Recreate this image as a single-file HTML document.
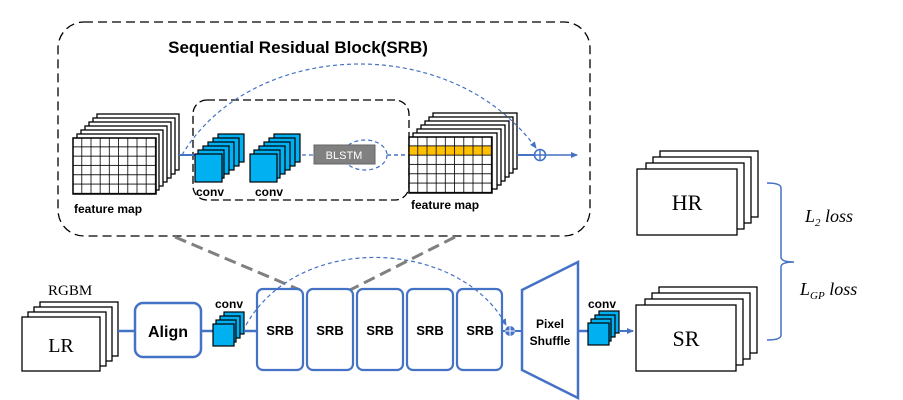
<!DOCTYPE html>
<html><head><meta charset="utf-8"><style>
body{margin:0;background:#fff}
svg{display:block}
.b{font-family:"Liberation Sans",sans-serif;font-weight:bold}
.s{font-family:"Liberation Serif",serif}
</style></head><body>
<svg width="903" height="400" viewBox="0 0 903 400" xmlns="http://www.w3.org/2000/svg">
<defs>
<marker id="ar" markerUnits="userSpaceOnUse" markerWidth="8" markerHeight="8" refX="6" refY="4" orient="auto"><path d="M0,1 L7,4 L0,7 z" fill="#4472C4"/></marker>
<pattern id="grid" x="73" y="138" width="9.2" height="9.3" patternUnits="userSpaceOnUse"><path d="M9.2,0 V9.3 M0,9.3 H9.2" stroke="#000" stroke-width="1.6" fill="none"/></pattern>
<pattern id="grid2" x="409" y="137" width="9.2" height="9.3" patternUnits="userSpaceOnUse"><path d="M9.2,0 V9.3 M0,9.3 H9.2" stroke="#000" stroke-width="1.6" fill="none"/></pattern>
</defs>

<rect x="58" y="22" width="532" height="214" rx="26" fill="none" stroke="#000" stroke-width="1.3" stroke-dasharray="9,5"/>
<text x="298" y="53" class="b" font-size="17" text-anchor="middle">Sequential Residual Block(SRB)</text>
<rect x="193" y="100" width="216" height="100" rx="14" fill="none" stroke="#000" stroke-width="1.3" stroke-dasharray="8,4"/>

<g fill="#fff" stroke="#000" stroke-width="1.3">
<rect x="97" y="114" width="82" height="56"/><rect x="93" y="118" width="82" height="56"/><rect x="89" y="122" width="82" height="56"/><rect x="85" y="126" width="82" height="56"/><rect x="81" y="130" width="82" height="56"/><rect x="77" y="134" width="82" height="56"/>
<rect x="73" y="138" width="83" height="56"/>
</g>
<rect x="73" y="138" width="83" height="56" fill="url(#grid)" stroke="#000" stroke-width="1.3"/>
<text x="74" y="213" class="b" font-size="12">feature map</text>
<line x1="179" y1="155" x2="195" y2="155" stroke="#4472C4" stroke-width="2"/>

<g fill="#00B0F0" stroke="#000" stroke-width="1.2">
<rect x="218" y="134" width="26" height="28"/><rect x="213" y="138" width="26" height="28"/><rect x="208" y="142" width="26" height="28"/><rect x="203" y="146" width="26" height="28"/><rect x="198" y="150" width="26" height="28"/><rect x="195" y="154" width="27" height="28"/>
<rect x="274" y="134" width="26" height="28"/><rect x="269" y="138" width="26" height="28"/><rect x="264" y="142" width="26" height="28"/><rect x="259" y="146" width="26" height="28"/><rect x="254" y="150" width="26" height="28"/><rect x="250" y="154" width="27" height="28"/>
</g>
<text x="196" y="196" class="b" font-size="12">conv</text>
<text x="255" y="196" class="b" font-size="12">conv</text>
<line x1="302" y1="155" x2="314" y2="155" stroke="#4472C4" stroke-width="1.2" stroke-dasharray="4,3"/>
<ellipse cx="365" cy="155" rx="22" ry="15" fill="none" stroke="#4472C4" stroke-width="1.2" stroke-dasharray="4,3"/>
<rect x="314" y="145" width="61" height="19" fill="#808080" stroke="#666"/>
<text x="344" y="159" font-family="Liberation Sans,sans-serif" font-size="11" fill="#fff" text-anchor="middle">BLSTM</text>
<line x1="387" y1="155" x2="409" y2="155" stroke="#4472C4" stroke-width="1.5" stroke-dasharray="4,3"/>

<g fill="#fff" stroke="#000" stroke-width="1.3">
<rect x="433" y="113" width="84" height="56"/><rect x="429" y="117" width="84" height="56"/><rect x="425" y="121" width="84" height="56"/><rect x="421" y="125" width="84" height="56"/><rect x="417" y="129" width="84" height="56"/><rect x="413" y="133" width="84" height="56"/>
<rect x="409" y="137" width="83" height="56"/>
</g>
<rect x="409" y="146" width="83" height="9.3" fill="#FFC000"/>
<rect x="409" y="137" width="83" height="56" fill="url(#grid2)" stroke="#000" stroke-width="1.3"/>
<text x="411" y="209" class="b" font-size="12">feature map</text>
<line x1="517" y1="155" x2="534" y2="155" stroke="#4472C4" stroke-width="2"/>
<circle cx="540" cy="155" r="5.5" fill="none" stroke="#4472C4" stroke-width="1.6"/>
<path d="M534.5,155 H545.5 M540,149.5 V160.5" stroke="#4472C4" stroke-width="1.4"/>
<line x1="546" y1="155" x2="577" y2="155" stroke="#4472C4" stroke-width="1.5" marker-end="url(#ar)"/>
<path d="M182,155 C250,40 450,30 536,148" fill="none" stroke="#4472C4" stroke-width="1.2" stroke-dasharray="4,3" marker-end="url(#ar)"/>

<line x1="175" y1="237" x2="300" y2="290" stroke="#808080" stroke-width="3" stroke-dasharray="12,6"/>
<line x1="455" y1="237" x2="350" y2="290" stroke="#808080" stroke-width="3" stroke-dasharray="12,6"/>

<text x="48" y="295" class="s" font-size="15">RGBM</text>
<g fill="#fff" stroke="#000" stroke-width="1.3">
<rect x="40" y="302" width="78" height="54"/><rect x="34" y="307" width="78" height="54"/><rect x="28" y="312" width="78" height="54"/><rect x="22" y="317" width="78" height="54"/>
</g>
<text x="61" y="352" class="s" font-size="20" text-anchor="middle">LR</text>
<line x1="118" y1="331" x2="135" y2="331" stroke="#4472C4" stroke-width="2.5"/>
<rect x="135" y="303" width="66" height="54" rx="8" fill="#fff" stroke="#4472C4" stroke-width="2.5"/>
<text x="168" y="337" class="b" font-size="16" text-anchor="middle">Align</text>
<line x1="201" y1="331" x2="213" y2="331" stroke="#4472C4" stroke-width="2.5"/>
<g fill="#00B0F0" stroke="#000" stroke-width="1.2">
<rect x="224" y="312" width="20" height="22"/><rect x="220" y="316" width="20" height="22"/><rect x="216" y="320" width="20" height="22"/><rect x="213" y="324" width="21" height="22"/>
</g>
<text x="215" y="308" class="b" font-size="12">conv</text>
<line x1="244" y1="331" x2="257" y2="331" stroke="#4472C4" stroke-width="2.5"/>

<g fill="#fff" stroke="#4472C4" stroke-width="2.2">
<rect x="257" y="289" width="46" height="81" rx="6"/><rect x="307" y="289" width="46" height="81" rx="6"/><rect x="357" y="289" width="46" height="81" rx="6"/><rect x="407" y="289" width="46" height="81" rx="6"/><rect x="457" y="289" width="45" height="81" rx="6"/>
</g>
<g class="b" font-size="13" text-anchor="middle">
<text x="280" y="335">SRB</text><text x="330" y="335">SRB</text><text x="380" y="335">SRB</text><text x="430" y="335">SRB</text><text x="480" y="335">SRB</text>
</g>
<path d="M246,325 C300,230 460,240 506,325" fill="none" stroke="#4472C4" stroke-width="1.2" stroke-dasharray="4,3" marker-end="url(#ar)"/>
<line x1="502" y1="331" x2="522" y2="331" stroke="#4472C4" stroke-width="2"/>
<circle cx="510" cy="331" r="5" fill="#4472C4"/>
<path d="M505,331 H515 M510,326 V336" stroke="#fff" stroke-width="1"/>

<path d="M522,290 L578,262 L578,398 L522,370 Z" fill="#fff" stroke="#4472C4" stroke-width="2.5"/>
<text x="550" y="328" class="b" font-size="12" text-anchor="middle">Pixel</text>
<text x="550" y="345" class="b" font-size="12" text-anchor="middle">Shuffle</text>
<line x1="578" y1="331" x2="589" y2="331" stroke="#4472C4" stroke-width="2.5"/>
<g fill="#00B0F0" stroke="#000" stroke-width="1.2">
<rect x="599" y="311" width="20" height="22"/><rect x="595" y="315" width="20" height="22"/><rect x="591" y="319" width="20" height="22"/><rect x="588" y="323" width="21" height="22"/>
</g>
<text x="588" y="308" class="b" font-size="12">conv</text>
<line x1="619" y1="331" x2="633" y2="331" stroke="#4472C4" stroke-width="2" marker-end="url(#ar)"/>

<g fill="#fff" stroke="#000" stroke-width="1.3">
<rect x="660" y="151" width="98" height="66"/><rect x="653" y="157" width="98" height="66"/><rect x="646" y="163" width="98" height="66"/><rect x="637" y="169" width="100" height="66"/>
<rect x="659" y="287" width="98" height="66"/><rect x="652" y="293" width="98" height="66"/><rect x="645" y="299" width="98" height="66"/><rect x="636" y="305" width="100" height="66"/>
</g>
<text x="687" y="210" class="s" font-size="22" text-anchor="middle">HR</text>
<text x="686" y="346" class="s" font-size="22" text-anchor="middle">SR</text>

<path d="M767,183 Q781,183 781,188 V257 Q781,262 794,262 Q781,262 781,267 V335 Q781,340 767,340" fill="none" stroke="#4472C4" stroke-width="1.5"/>
<text x="805" y="222" class="s" font-size="18" font-style="italic">L<tspan font-size="11" dy="4">2</tspan><tspan dy="-4"> loss</tspan></text>
<text x="800" y="295" class="s" font-size="18" font-style="italic">L<tspan font-size="11" dy="4">GP</tspan><tspan dy="-4"> loss</tspan></text>
</svg>
</body></html>
